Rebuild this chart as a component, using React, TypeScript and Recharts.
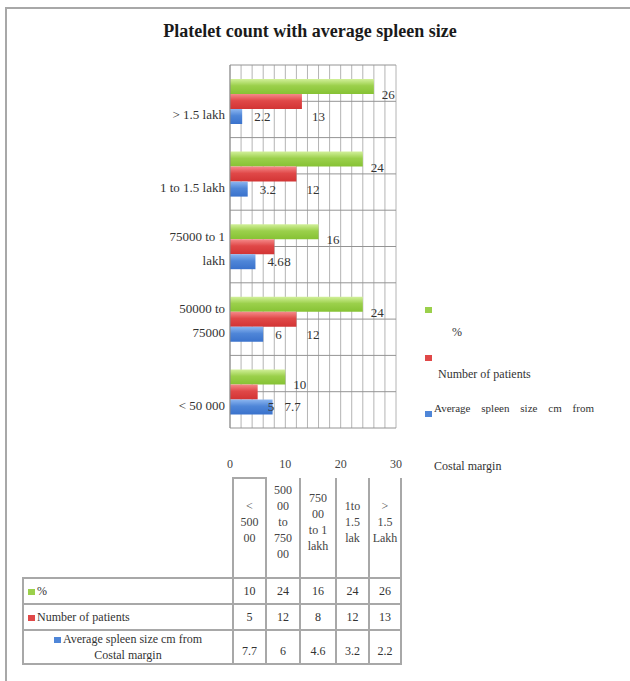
import React from 'react';
import {
    BarChart,
    Bar,
    XAxis,
    YAxis,
    CartesianGrid,
    Legend,
    LabelList
} from 'recharts';

// platelet count groups, bottom to top on the chart (same order as the table)
const categories = ['< 50 000', '50000 to\n75000', '75000 to 1\nlakh', '1 to 1.5 lakh', '> 1.5 lakh'];
const tableHeads = ['<\n500\n00', '500\n00\nto\n750\n00', '750\n00\nto 1\nlakh', '1to\n1.5\nlak', '>\n1.5\nLakh'];
const percent = [10, 24, 16, 24, 26];
const patients = [5, 12, 8, 12, 13];
const spleenSize = [7.7, 6, 4.6, 3.2, 2.2];
const xTicks = [0, 10, 20, 30];

const FONT = '"Liberation Serif", "Times New Roman", serif';
const GRID_STEP = 2;
const X_MAX = 30;

const series = [
    { key: 'percent', label: ['%'], swatch: '#9bd04b', top: '#d2f09a', bottom: '#86c234', dx: 8, dy: 8 },
    { key: 'patients', label: ['Number of patients'], swatch: '#e04848', top: '#f58a8a', bottom: '#d23434', dx: 10, dy: 15 },
    { key: 'spleen', label: ['Average spleen size cm from', 'Costal margin'], swatch: '#4f86d8', top: '#8cb6f0', bottom: '#3a72cc', dx: 12, dy: 0 }
];

const data = categories.map((name, i) => ({
    name,
    percent: percent[i],
    patients: patients[i],
    spleen: spleenSize[i]
}));

const tableRows = [percent, patients, spleenSize];

const CategoryTick = (props: any) => {
    const { x, y, payload } = props;
    const lines = String(payload.value).split('\n');
    return (
        <text x={x + 3} y={y} textAnchor="end" fontSize={13} fill="#333" fontFamily={FONT}>
            {lines.map((line, i) => (
                <tspan key={i} x={x + 3} dy={i === 0 ? (lines.length === 1 ? 18 : -6) : 24}>{line}</tspan>
            ))}
        </text>
    );
};

const ValueTick = (props: any) => {
    const { x, y, payload } = props;
    return (
        <text x={x} y={y + 32} textAnchor="middle" fontSize={12} fill="#444" fontFamily={FONT}>
            {payload.value}
        </text>
    );
};

const makeLabel = (dx: number, dy: number) => (props: any) => {
    const { x, y, width, height, value } = props;
    return (
        <text
            x={Number(x) + Number(width) + dx}
            y={Number(y) + Number(height) / 2 + dy}
            dominantBaseline="central"
            fontSize={13}
            fill="#333"
            fontFamily={FONT}
        >
            {value}
        </text>
    );
};

const Swatch = ({ color }: { color: string }) => (
    <span style={{ display: 'inline-block', width: 7, height: 6, background: color, marginRight: 2 }} />
);

const renderLegend = () => (
    <div style={{ fontFamily: FONT, fontSize: 12, color: '#333' }}>
        <div style={{ height: 48 }}>
            <Swatch color={series[0].swatch} />
            <div style={{ paddingLeft: 27, marginTop: 8 }}>{series[0].label[0]}</div>
        </div>
        <div style={{ height: 52 }}>
            <Swatch color={series[1].swatch} />
            <div style={{ paddingLeft: 13, marginTop: 2 }}>{series[1].label[0]}</div>
        </div>
        <div style={{ display: 'flex', alignItems: 'flex-start' }}>
            <div style={{ marginTop: 4 }}><Swatch color={series[2].swatch} /></div>
            <div style={{ width: 160, fontSize: 11 }}>
                <div style={{ textAlign: 'justify', textAlignLast: 'justify' as any }}>{series[2].label[0]}</div>
                <div style={{ marginTop: 45, fontSize: 12 }}>{series[2].label[1]}</div>
            </div>
        </div>
    </div>
);

const border = '2px solid #a8a8a8';
const colWidths = [210, 33, 34, 36, 33, 32];

const App: React.FC = () => {
    return (
        <div style={{ position: 'absolute', left: 0, top: 0, width: 630, height: 681, background: '#fff', fontFamily: FONT }}>
            <div style={{ position: 'absolute', left: 5, top: 7, width: 625, height: 674, borderTop: border, borderLeft: border }} />
            <div style={{ position: 'absolute', left: 0, top: 21, width: 620, textAlign: 'center', fontSize: 18, fontWeight: 'bold', color: '#1a1a1a' }}>
                Platelet count with average spleen size
            </div>

            <div style={{ position: 'absolute', left: 0, top: 0 }}>
                <BarChart
                    width={630}
                    height={480}
                    data={data}
                    layout="vertical"
                    margin={{ top: 65, right: 234, bottom: 22, left: 110 }}
                    barSize={15}
                    barGap={0}
                >
                    <defs>
                        {series.map(s => (
                            <linearGradient key={s.key} id={`grad-${s.key}`} x1="0" y1="0" x2="0" y2="1">
                                <stop offset="0%" stopColor={s.top} />
                                <stop offset="45%" stopColor={s.swatch} />
                                <stop offset="100%" stopColor={s.bottom} />
                            </linearGradient>
                        ))}
                    </defs>
                    <CartesianGrid
                        horizontal={false}
                        stroke="#b4b4b4"
                        verticalCoordinatesGenerator={({ offset }: any) =>
                            Array.from({ length: X_MAX / GRID_STEP + 1 }, (_, i) => offset.left + (i * GRID_STEP / X_MAX) * offset.width)
                        }
                    />
                    <CartesianGrid
                        vertical={false}
                        stroke="#949494"
                        horizontalCoordinatesGenerator={({ offset }: any) =>
                            Array.from({ length: categories.length * 2 + 1 }, (_, i) => offset.top + (i / (categories.length * 2)) * offset.height)
                        }
                    />
                    <XAxis
                        type="number"
                        domain={[0, X_MAX]}
                        ticks={xTicks}
                        axisLine={false}
                        tickLine={false}
                        height={30}
                        tick={<ValueTick />}
                    />
                    <YAxis
                        type="category"
                        dataKey="name"
                        reversed
                        width={120}
                        axisLine={{ stroke: '#8a8a8a' }}
                        tickLine={false}
                        tick={<CategoryTick />}
                    />
                    <Legend
                        layout="vertical"
                        align="center"
                        verticalAlign="middle"
                        wrapperStyle={{ left: 425, top: 302, width: 200 }}
                        content={renderLegend}
                    />
                    {series.map(s => (
                        <Bar
                            key={s.key}
                            dataKey={s.key}
                            name={s.label.join(' ')}
                            fill={`url(#grad-${s.key})`}
                            isAnimationActive={false}
                        >
                            <LabelList dataKey={s.key} content={makeLabel(s.dx, s.dy)} />
                        </Bar>
                    ))}
                </BarChart>
            </div>

            <table
                style={{
                    position: 'absolute',
                    left: 22,
                    top: 477,
                    borderCollapse: 'collapse',
                    tableLayout: 'fixed',
                    width: colWidths.reduce((a, b) => a + b, 0),
                    fontSize: 12,
                    color: '#333'
                }}
            >
                <colgroup>
                    {colWidths.map((w, i) => <col key={i} style={{ width: w }} />)}
                </colgroup>
                <tbody>
                    <tr style={{ height: 100 }}>
                        <td style={{ border: 'none' }} />
                        {tableHeads.map((h, i) => (
                            <td
                                key={i}
                                style={{
                                    borderLeft: border,
                                    borderRight: border,
                                    borderTop: i === 0 ? border : 'none',
                                    whiteSpace: 'pre-line',
                                    textAlign: 'center',
                                    verticalAlign: 'middle',
                                    fontSize: 12,
                                    lineHeight: '16px',
                                    padding: '0 0 12px 0',
                                    color: '#444'
                                }}
                            >
                                {h}
                            </td>
                        ))}
                    </tr>
                    {tableRows.map((row, r) => (
                        <tr key={r} style={{ height: r === 2 ? 33 : 26 }}>
                            <td
                                style={{
                                    border,
                                    padding: '0 4px',
                                    textAlign: r === 2 ? 'center' : 'left',
                                    lineHeight: '16px',
                                    verticalAlign: 'middle'
                                }}
                            >
                                <Swatch color={series[r].swatch} />
                                {series[r].label[0]}
                                {series[r].label[1] && <br />}
                                {series[r].label[1]}
                            </td>
                            {row.map((v, i) => (
                                <td
                                    key={i}
                                    style={{
                                        border,
                                        textAlign: 'center',
                                        verticalAlign: r === 2 ? 'bottom' : 'middle',
                                        padding: r === 2 ? '0 0 4px 0' : 0
                                    }}
                                >
                                    {v}
                                </td>
                            ))}
                        </tr>
                    ))}
                </tbody>
            </table>
        </div>
    );
};

export default App;
